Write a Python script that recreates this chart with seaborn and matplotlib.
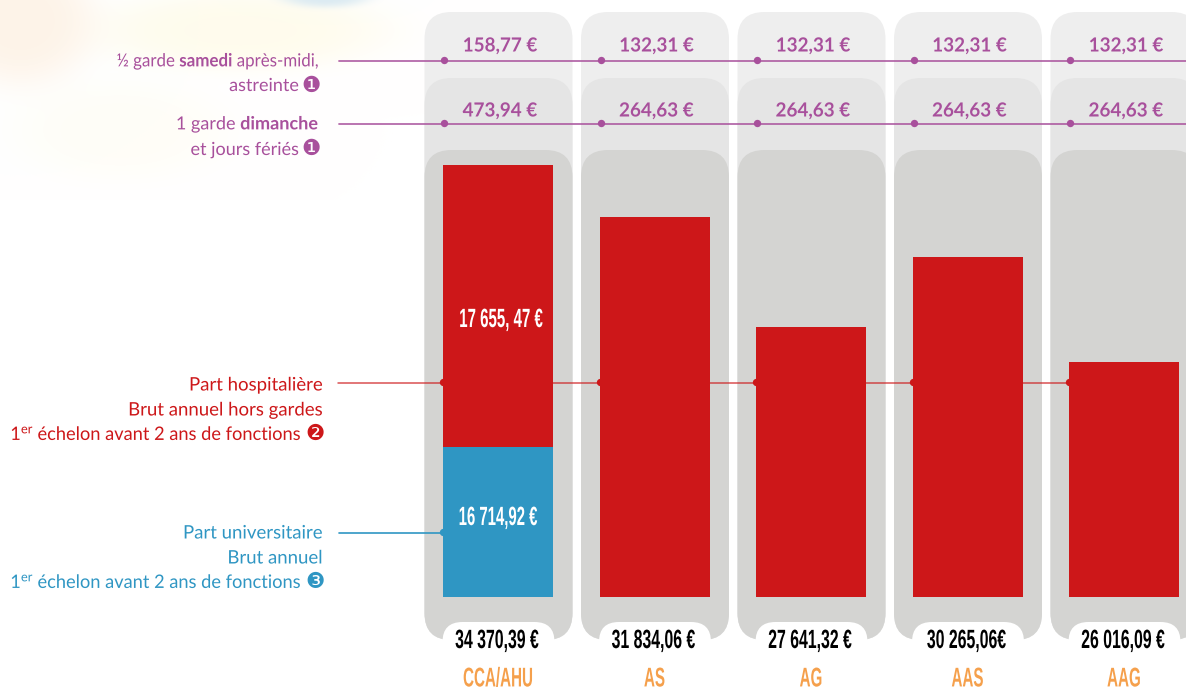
import numpy as np
import matplotlib
matplotlib.use("Agg")
import matplotlib.pyplot as plt
from matplotlib.patches import FancyBboxPatch
from matplotlib.patheffects import AbstractPathEffect
from matplotlib.transforms import Affine2D
import seaborn as sns

categories = ["CCA/AHU", "AS", "AG", "AAS", "AAG"]
total_labels = ["34 370,39 €", "31 834,06 €", "27 641,32 €", "30 265,06€", "26 016,09 €"]
samedi_labels = ["158,77 €", "132,31 €", "132,31 €", "132,31 €", "132,31 €"]
dimanche_labels = ["473,94 €", "264,63 €", "264,63 €", "264,63 €", "264,63 €"]
# heights as drawn in the picture, they are not proportional to the printed totals
drawn_heights = [34370, 30233, 21481, 27050, 18697]
drawn_universitaire = [11934]
part_hospitaliere = "17 655, 47 €"
part_universitaire = "16 714,92 €"

RED = "#cd1719"
BLUE = "#2f96c3"
PURPLE = "#a8509c"
ORANGE = "#f5a04c"
NARROW = "Liberation Sans"

sns.set_theme(style="white")
plt.rcParams["font.family"] = ["Lato", "DejaVu Sans"]
plt.rcParams["mathtext.fontset"] = "custom"
plt.rcParams["mathtext.rm"] = "Lato"
plt.rcParams["mathtext.bf"] = "Lato:bold"
plt.rcParams["mathtext.default"] = "rm"

W, H = 1186, 689
fig = plt.figure(figsize=(W / 100, H / 100), dpi=100, facecolor="white")


class Squeeze(AbstractPathEffect):
    # no condensed font is installed, so narrow the glyphs around an x anchor (pixels)
    def __init__(self, anchor, factor):
        super().__init__()
        self.anchor = anchor
        self.factor = factor

    def draw_path(self, renderer, gc, tpath, affine, rgbFace=None):
        squeeze = Affine2D().translate(-self.anchor, 0).scale(self.factor, 1).translate(self.anchor, 0)
        renderer.draw_path(gc, tpath, affine + squeeze, rgbFace)


def pixel_axes(z):
    a = fig.add_axes([0, 0, 1, 1], zorder=z)
    a.set_xlim(0, W)
    a.set_ylim(H, 0)
    a.axis("off")
    return a


ax_bg = pixel_axes(0)
ax_txt = pixel_axes(2)

# pale watercolour stain in the top left corner
yy, xx = np.mgrid[0:200, 0:500]
img = np.ones((200, 500, 3))
for cx, cy, sx, sy, col in [(240, 30, 150, 40, (1.0, 0.988, 0.93)),
                            (120, 130, 110, 50, (1.0, 0.995, 0.97)),
                            (20, 20, 75, 65, (0.995, 0.955, 0.91)),
                            (325, -5, 45, 12, (0.86, 0.92, 0.95))]:
    g = np.exp(-(((xx - cx) / sx) ** 2 + ((yy - cy) / sy) ** 2) ** 2)[..., None]
    img = img * (1 - g) + np.array(col) * g
ax_bg.imshow(img, extent=(0, 500, 200, 0), aspect="auto", zorder=0)
ax_bg.set_xlim(0, W)
ax_bg.set_ylim(H, 0)

# bars axes: x is in category units, y in euros as drawn
col_step = 156.5
first_centre = 498
bar_w = 110
base_px = 597
top_px = 165
left_px = first_centre - col_step / 2
right_px = first_centre + col_step * 4.5
ax = fig.add_axes([left_px / W, 1 - base_px / H, (right_px - left_px) / W, (base_px - top_px) / H], zorder=1)
ax.patch.set_alpha(0)
sns.barplot(x=categories, y=drawn_heights, color=RED, saturation=1, width=bar_w / col_step,
            linewidth=0, ax=ax)
sns.barplot(x=categories[:1], y=drawn_universitaire, order=categories, color=BLUE, saturation=1,
            width=bar_w / col_step, linewidth=0, ax=ax)
ax.set_xlim(-0.5, 4.5)
ax.set_ylim(0, max(drawn_heights))
ax.set_xlabel("")
ax.set_ylabel("")
ax.set_yticks([])
sns.despine(ax=ax, left=True, bottom=True)
ax.tick_params(axis="x", length=0, pad=50)

centres = [first_centre + col_step * i for i in range(5)]

for t, c in zip(ax.get_xticklabels(), centres):
    t.set_color(ORANGE)
    t.set_family(NARROW)
    t.set_fontweight("bold")
    t.set_fontsize(19.5)
    t.set_path_effects([Squeeze(c, 0.56)])


def rounded(a, x0, y0, x1, y1, r, color, z):
    a.add_patch(FancyBboxPatch((x0 + r, y0 + r), x1 - x0 - 2 * r, y1 - y0 - 2 * r,
                               boxstyle=f"round,pad={r},rounding_size={r}",
                               fc=color, ec="none", zorder=z))


for c in centres:
    rounded(ax_bg, c - 73.5, 12, c + 74.5, 640, 27, "#eeeeee", 1)
    rounded(ax_bg, c - 73.5, 78, c + 74.5, 640, 27, "#e5e5e5", 2)
    rounded(ax_bg, c - 73.5, 150, c + 74.5, 640, 27, "#d4d4d2", 3)
    rounded(ax_bg, c - 55.5, 622, c + 56.5, 690, 20, "white", 4)

# leader lines, the red one runs behind the bars
ax_bg.plot([339, W], [60.5, 60.5], color=PURPLE, lw=1.3, alpha=0.85, zorder=5)
ax_bg.plot([339, W], [124, 124], color=PURPLE, lw=1.3, alpha=0.85, zorder=5)
ax_bg.plot([338, centres[4] - 55], [382.5, 382.5], color=RED, lw=1.1, alpha=0.75, zorder=5)
ax_bg.plot([339, centres[0] - 55], [532.5, 532.5], color=BLUE, lw=1.2, zorder=5)
dots = [c - 54 for c in centres]
ax_bg.scatter(dots, [60] * 5, s=28, color=PURPLE, zorder=6, linewidths=0)
ax_bg.scatter(dots, [123] * 5, s=28, color=PURPLE, zorder=6, linewidths=0)
ax_bg.scatter([c - 1 for c in dots], [382] * 5, s=28, color=RED, zorder=6, linewidths=0)
ax_bg.scatter(dots[0] - 1, 532, s=28, color=BLUE, zorder=6, linewidths=0)


def squeezed(x, y, txt, color, size, factor, bold=True, family=None, ha="center"):
    ax_txt.text(x, y, txt, color=color, fontsize=size, ha=ha, va="center",
                fontweight="bold" if bold else "normal", family=family,
                path_effects=[Squeeze(x, factor)])


for c, s, d, tot in zip(centres, samedi_labels, dimanche_labels, total_labels):
    squeezed(c + 2, 46, s, PURPLE, 14, 0.97)
    squeezed(c + 2, 111, d, PURPLE, 14, 0.97)
    squeezed(c - 1, 641, tot, "black", 19, 0.6, family=NARROW)

squeezed(501, 320, part_hospitaliere, "white", 19, 0.57, family=NARROW)
squeezed(498, 518, part_universitaire, "white", 19, 0.565, family=NARROW)


def label(x, y, txt, color, size=13.4, factor=1.0):
    squeezed(x, y, txt, color, size, factor, bold=False, ha="right")


def badge(x, y, txt, color):
    ax_txt.text(x, y, txt, color=color, fontsize=15.5, family="DejaVu Sans", ha="center", va="center")


label(319, 61, "½ garde $\\mathbf{samedi}$ après-midi,", PURPLE, 13, 0.937)
label(299, 86, "astreinte", PURPLE, 13)
badge(311, 86, "❶", PURPLE)
label(319, 124, "1 garde $\\mathbf{dimanche}$", PURPLE, 13)
label(299, 150, "et jours fériés", PURPLE, 13)
badge(311, 149, "❶", PURPLE)

label(323, 385, "Part hospitalière", RED)
label(323, 410, "Brut annuel hors gardes", RED)
label(302, 434, "1$^{er}$ échelon avant 2 ans de fonctions", RED, factor=0.98)
badge(315, 434, "❷", RED)

label(323, 533, "Part universitaire", BLUE)
label(323, 558, "Brut annuel", BLUE)
label(302, 582, "1$^{er}$ échelon avant 2 ans de fonctions", BLUE, factor=0.98)
badge(315, 582, "❸", BLUE)

fig.savefig("out.png", dpi=100)
